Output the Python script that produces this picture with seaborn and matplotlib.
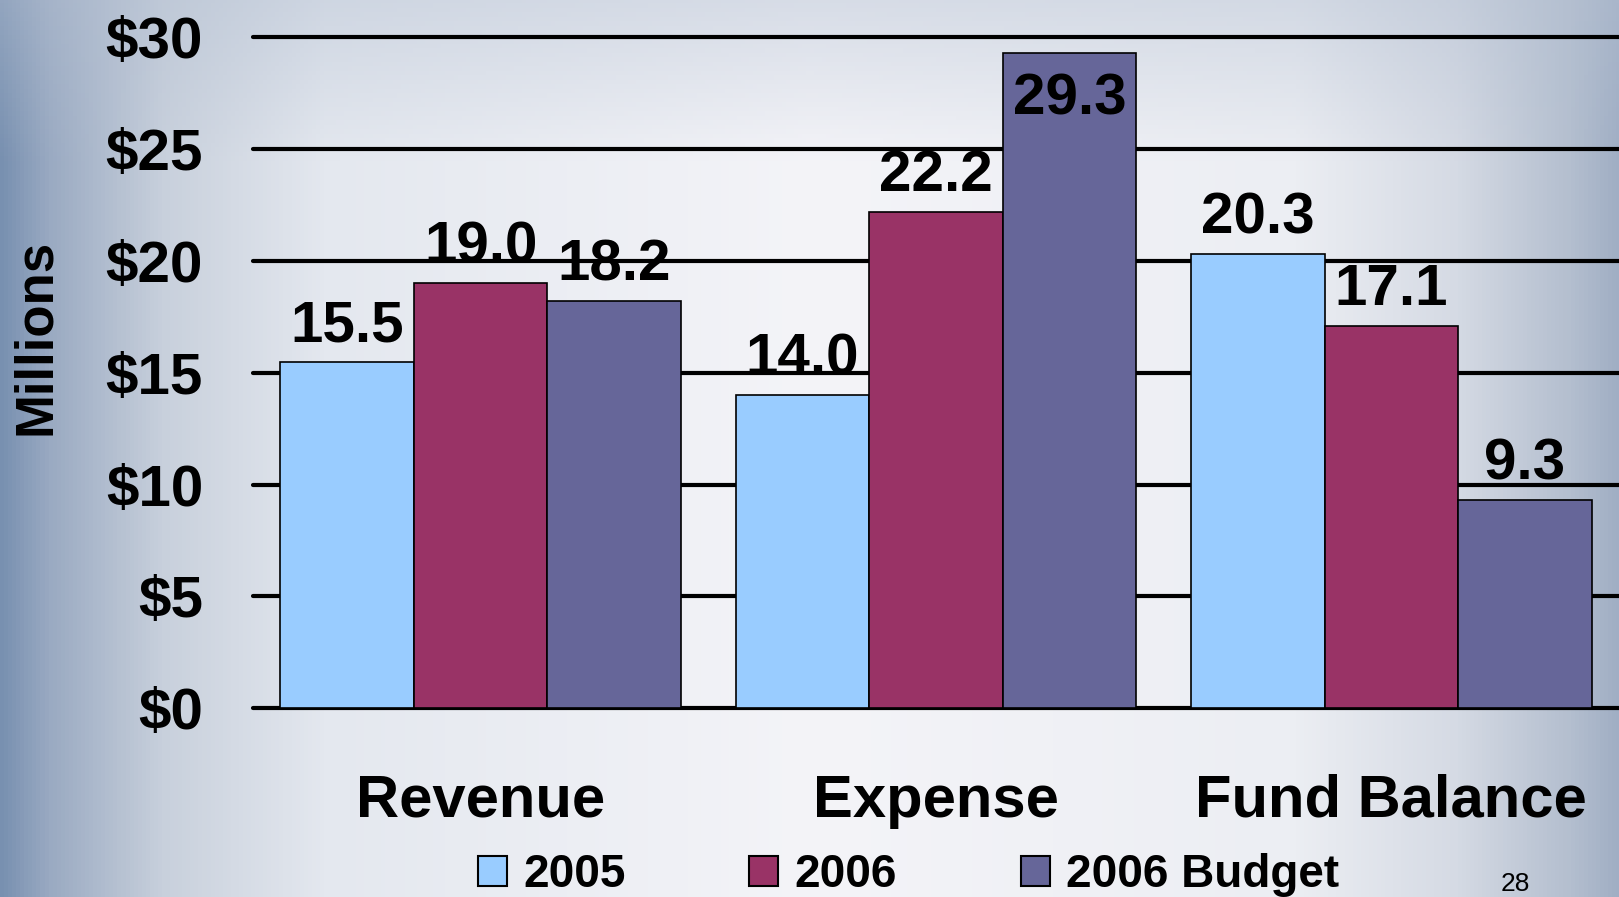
"""Revenue / expense / fund balance bar chart, slide style."""

import matplotlib
matplotlib.use('Agg')
import matplotlib.pyplot as plt
import matplotlib.colors as mcolors
from matplotlib.patches import Patch
import numpy as np
import pandas as pd
import seaborn as sns

categories = ['Revenue', 'Expense', 'Fund Balance']
series = ['2005', '2006', '2006 Budget']
values_2005 = [15.5, 14.0, 20.3]
values_2006 = [19.0, 22.2, 17.1]
values_budget = [18.2, 29.3, 9.3]
yticks = [0, 5, 10, 15, 20, 25, 30]
colors = ['#99CCFF', '#993366', '#666699']

df = pd.DataFrame({
    'category': categories * 3,
    'series': [s for s in series for _ in categories],
    'value': values_2005 + values_2006 + values_budget,
})

sns.set_theme(style='white', rc={'text.color': 'black',
                                 'xtick.color': 'black',
                                 'ytick.color': 'black'})
plt.rcParams['font.family'] = ['Liberation Sans', 'DejaVu Sans']
plt.rcParams['font.weight'] = 'bold'

fig = plt.figure(figsize=(16.19, 8.97), dpi=100)

# slide background gradient
bg = fig.add_axes([0, 0, 1, 1], zorder=-10)
stops_x = [0.0, 0.03, 0.1, 0.2, 0.5, 0.8, 0.9, 0.97, 1.0]
stops_c = ['#7890b0', '#9aaac2', '#c8d0dc', '#e4e8ef', '#f4f4f8',
           '#eceef3', '#d5dae4', '#b4bfcf', '#a0aec4']
xs = np.linspace(0, 1, 400)
rgb = np.array([mcolors.to_rgb(c) for c in stops_c])
row = np.stack([np.interp(xs, stops_x, rgb[:, k]) for k in range(3)], axis=-1)
ys = np.linspace(0, 1, 200)
tint = np.clip(1 - ys / 0.18, 0, 1)[:, None, None] * 0.45
top_col = np.array(mcolors.to_rgb('#b4c0d2'))
img = row[None, :, :] * (1 - tint) + top_col * tint
bg.imshow(img, aspect='auto', extent=(0, 1, 0, 1), origin='upper')
bg.set_axis_off()

ax = fig.add_axes([0.1563, 0.2104, 0.8437, 0.7606])
ax.patch.set_alpha(0)
sns.barplot(data=df, x='category', y='value', hue='series', palette=colors,
            saturation=1, width=0.88, gap=0, edgecolor='black', linewidth=1.2,
            legend=False, ax=ax, zorder=3)

ax.set_xlim(-0.5, 2.5)
ax.set_ylim(0, 30.5)
ax.set_yticks(yticks)
ax.set_yticklabels([f'${t}' for t in yticks])
ax.grid(axis='y', color='black', linewidth=3.0)
for gl in ax.get_ygridlines():
    gl.set_clip_on(False)
ax.set_axisbelow(True)
sns.despine(ax=ax, left=True, bottom=True)
ax.tick_params(axis='y', length=0, pad=36, labelsize=42)
ax.tick_params(axis='x', length=0, pad=47, labelsize=43)
ax.set_xlabel('')
ax.set_ylabel('')
for lab in ax.get_xticklabels() + ax.get_yticklabels():
    lab.set_fontweight('bold')

for container in ax.containers:
    for bar in container:
        h = bar.get_height()
        xc = bar.get_x() + bar.get_width() / 2
        if h + 2.8 > 30:
            ax.annotate(f'{h:.1f}', (xc, h), xytext=(0, -14),
                        textcoords='offset points', ha='center', va='top',
                        fontsize=42, fontweight='bold', zorder=5)
        else:
            ax.annotate(f'{h:.1f}', (xc, h), xytext=(0, 6),
                        textcoords='offset points', ha='center', va='bottom',
                        fontsize=42, fontweight='bold', zorder=5)

fig.text(36 / 1619, 1 - 337 / 897, 'Millions', rotation=90, ha='center',
         va='center', fontsize=38, fontweight='bold')

handles = [Patch(facecolor=c, edgecolor='black', linewidth=1.5) for c in colors]
fig.legend(handles, series, loc='center', bbox_to_anchor=(0.561, 1 - 875 / 897),
           ncol=3, frameon=False, prop={'size': 33, 'weight': 'bold'},
           handlelength=0.64, handleheight=0.64, handletextpad=0.35,
           columnspacing=2.7, borderpad=0)

fig.text(1515 / 1619, 1 - 884 / 897, '28', ha='center', va='center',
         fontsize=19, fontweight='normal')

fig.savefig('out.png', dpi=100)
